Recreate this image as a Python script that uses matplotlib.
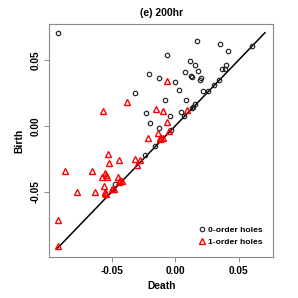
import numpy as np
import matplotlib
matplotlib.use("Agg")
import matplotlib.pyplot as plt

plt.rcParams['font.family'] = ['Liberation Sans', 'DejaVu Sans']
plt.rcParams['font.weight'] = 'bold'
plt.rcParams['axes.unicode_minus'] = False

# ------------------------------------------
# Data
# ------------------------------------------
# 0-order holes (circles)
death0 = [-0.0926, 0.0174, 0.0350, 0.0416, 0.0603, -0.0068, 0.0118, 0.0158,
          0.0400, 0.0368, 0.0392, 0.0182, -0.0208, 0.0079, 0.0121, 0.0132,
          -0.0126, 0.0205, 0.0195, -0.0005, 0.0345, 0.0308, 0.0026, 0.0221,
          0.0253, -0.0318, -0.0084, 0.0087, 0.0153, 0.0139, 0.0132, 0.0045,
          -0.0229, 0.0071, -0.0042, -0.0197, -0.0132, -0.0034, -0.0158,
          -0.0237, -0.0476, -0.0489]
birth0 = [0.0705, 0.0641, 0.0619, 0.0568, 0.0601, 0.0533, 0.0490, 0.0457,
          0.0462, 0.0434, 0.0429, 0.0417, 0.0396, 0.0404, 0.0379, 0.0371,
          0.0359, 0.0361, 0.0348, 0.0333, 0.0348, 0.0311, 0.0275, 0.0265,
          0.0260, 0.0247, 0.0197, 0.0192, 0.0164, 0.0141, 0.0134, 0.0106,
          0.0098, 0.0076, 0.0078, 0.0023, -0.0013, -0.0028, -0.0152,
          -0.0222, -0.0439, -0.0475]

# 1-order holes (triangles)
death1 = [-0.0063, -0.0379, -0.0568, -0.0150, -0.0097, 0.0095, -0.0063,
          -0.0134, -0.0218, -0.0053, -0.0124, -0.0111, -0.0097, -0.0124,
          -0.0526, -0.0524, -0.0321, -0.0279, -0.0447, -0.0303, -0.0866,
          -0.0653, -0.0550, -0.0545, -0.0579, -0.0534, -0.0450, -0.0439,
          -0.0421, -0.0442, -0.0558, -0.0550, -0.0545, -0.0555, -0.0632,
          -0.0774, -0.0495, -0.0482, -0.0926, -0.0921]
birth1 = [0.0343, 0.0184, 0.0114, 0.0131, 0.0114, 0.0121, 0.0030,
          -0.0051, -0.0096, -0.0038, -0.0091, -0.0096, -0.0091, -0.0101,
          -0.0217, -0.0278, -0.0255, -0.0258, -0.0260, -0.0293, -0.0346,
          -0.0346, -0.0356, -0.0374, -0.0386, -0.0389, -0.0391, -0.0413,
          -0.0421, -0.0424, -0.0457, -0.0500, -0.0515, -0.0508, -0.0505,
          -0.0500, -0.0482, -0.0477, -0.0712, -0.0914]

ticks = [-0.05, 0.0, 0.05]
tick_labels = ['-0.05', '0.00', '0.05']

# ------------------------------------------
# Plot
# ------------------------------------------
all_vals = np.concatenate([death0, birth0, death1, birth1])
lo, hi = all_vals.min(), all_vals.max()
pad = 0.04 * (hi - lo)

fig = plt.figure(figsize=(2.98, 2.98), dpi=100)
ax = fig.add_axes([0.1655, 0.1386, 0.7515, 0.7805])

ax.plot([lo, hi], [lo, hi], color='black', lw=1.1, zorder=1)
ax.plot(death0, birth0, 'o', mfc='none', mec='#222222', ms=3.2, mew=0.85,
        label='0-order holes', zorder=2)
ax.plot(death1, birth1, '^', mfc='none', mec='red', ms=3.8, mew=1.0,
        label='1-order holes', zorder=3)

ax.set_xlim(lo - pad, hi + pad)
ax.set_ylim(lo - pad, hi + pad)
ax.set_xticks(ticks)
ax.set_xticklabels(tick_labels, fontsize=7.2, fontweight='bold')
ax.set_yticks(ticks)
ax.set_yticklabels(tick_labels, fontsize=7.2, fontweight='bold',
                   rotation=90, va='center')
ax.tick_params(length=3.4, width=0.6, color='#777777', pad=3)

for s in ax.spines.values():
    s.set_color('#888888')
    s.set_linewidth(0.8)

ax.set_xlabel('Death', fontsize=7.4, fontweight='bold', labelpad=4)
ax.set_ylabel('Birth', fontsize=7.4, fontweight='bold', labelpad=4)
ax.set_title('(e) 200hr', fontsize=7.5, fontweight='bold', pad=6)

ax.legend(loc='lower right', frameon=False, handletextpad=0.2,
          handlelength=1.0, borderaxespad=0.9, labelspacing=0.45,
          prop={'weight': 'bold', 'size': 6.1})

fig.savefig('out.png', dpi=100)
